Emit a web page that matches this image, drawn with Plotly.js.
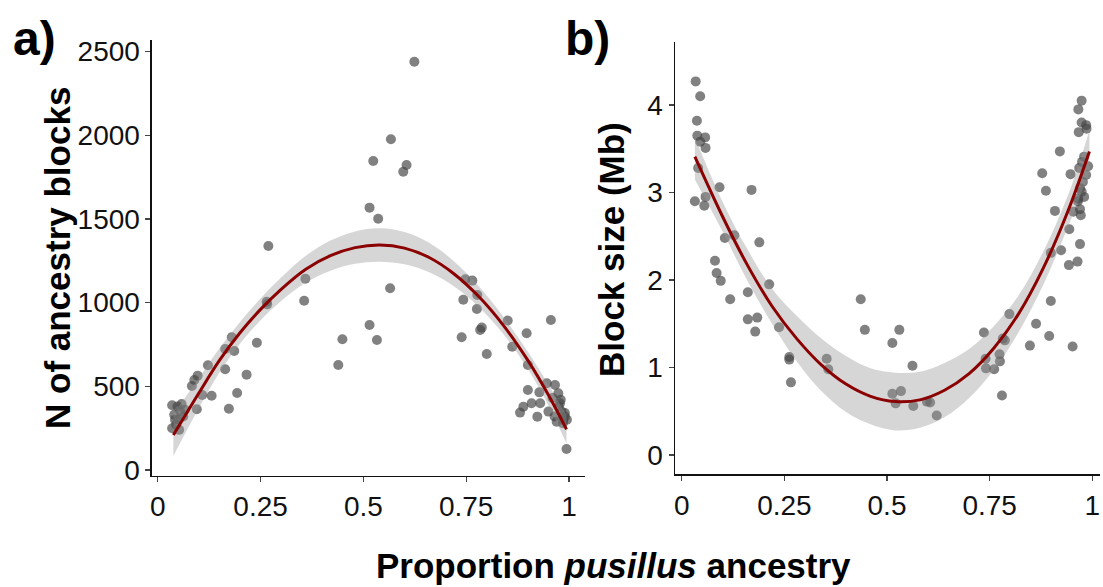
<!DOCTYPE html>
<html>
<head>
<meta charset="utf-8">
<script src="https://cdn.plot.ly/plotly-3.0.1.min.js"></script>
<style>html,body{margin:0;padding:0;background:#fff;}#chart{width:1103px;height:587px;}</style>
</head>
<body>
<div id="chart"></div>
<script>
// ---------- Panel a: number of ancestry blocks ----------
const aX = [0.624,0.567,0.524,0.605,0.597,0.515,0.536,0.269,0.359,0.356,0.565,0.265,0.266,
  0.180,0.186,0.164,0.241,0.164,0.216,0.122,0.097,0.089,0.083,0.108,0.131,0.193,0.173,0.095,
  0.035,0.058,0.040,0.050,0.045,0.055,0.062,0.035,0.048,0.066,0.042,0.052,
  0.449,0.439,0.515,0.533,
  0.748,0.765,0.743,0.777,0.776,0.788,0.784,0.739,0.800,0.851,0.956,0.897,0.862,0.900,
  0.900,0.928,0.946,0.966,0.974,0.889,0.881,0.909,0.930,0.923,0.950,0.970,0.986,0.978,
  0.982,0.990,0.994,0.960,0.975,0.990,0.985,0.965,0.995,0.980];
const aY = [2440,1977,1847,1823,1783,1568,1502,1339,1143,1012,1086,1006,990,
  793,711,723,761,602,570,626,564,538,502,448,444,460,366,363,
  387,395,330,300,270,350,320,250,380,360,300,240,
  781,628,867,777,
  1140,1132,1018,1046,962,851,837,793,693,893,897,817,737,628,
  478,464,518,508,458,378,343,399,399,319,349,289,299,399,
  349,319,126,430,380,340,280,320,300,420];
const aFitX  = [0.038,0.10,0.15,0.20,0.25,0.30,0.36,0.42,0.48,0.54,0.60,0.66,0.72,0.78,0.84,0.90,0.95,0.994];
const aFitY  = [209,460,655,820,960,1080,1200,1281,1329,1345,1326,1270,1173,1038,866,655,448,243];
const aBandHi = [334,550,727,885,1025,1150,1280,1371,1426,1445,1423,1358,1248,1100,918,707,510,328];
const aBandLo = [84,370,583,755,895,1010,1120,1191,1232,1245,1229,1182,1098,976,814,603,386,158];

// ---------- Panel b: block size (Mb) ----------
const bX = [0.034,0.045,0.037,0.038,0.057,0.045,0.058,0.040,0.092,0.170,0.032,0.058,0.055,
  0.105,0.128,0.189,0.081,0.085,0.095,0.213,0.118,0.161,0.161,0.184,0.179,0.237,0.262,0.262,
  0.266,0.353,0.357,0.436,0.446,0.513,0.530,0.562,0.513,0.534,0.521,0.564,0.597,0.605,0.621,
  0.736,0.740,0.741,0.761,0.774,0.775,0.780,0.782,0.787,0.798,0.848,0.863,0.895,0.899,0.952,
  0.943,0.964,0.899,0.924,
  0.974,0.966,0.974,0.985,0.986,0.967,0.921,0.980,0.878,0.947,0.968,0.887,0.977,0.974,0.966,
  0.909,0.954,0.970,0.972,0.944,0.970,0.975,0.985,0.970,0.980,0.990,0.965];
const bY = [4.27,4.10,3.82,3.65,3.63,3.58,3.51,3.28,3.06,3.03,2.90,2.95,2.85,
  2.48,2.51,2.43,2.22,2.08,1.99,1.95,1.78,1.86,1.55,1.57,1.41,1.46,1.12,1.09,
  0.83,1.10,0.98,1.78,1.43,1.28,1.43,1.02,0.70,0.73,0.59,0.56,0.61,0.60,0.45,
  1.40,1.10,0.99,0.98,1.15,1.07,0.68,1.33,1.31,1.61,1.25,1.50,1.36,1.76,1.24,
  2.17,2.21,2.31,2.34,
  4.05,3.95,3.80,3.77,3.73,3.69,3.47,3.41,3.22,3.21,3.28,3.02,3.12,3.01,2.93,
  2.79,2.78,2.81,2.74,2.58,2.41,3.35,3.20,3.05,2.95,3.30,2.90];
const bFitX  = [0.032,0.10,0.16,0.22,0.28,0.34,0.40,0.46,0.52,0.58,0.64,0.70,0.76,0.82,0.88,0.94,0.993];
const bFitY  = [3.41,2.72,2.17,1.70,1.33,1.03,0.81,0.67,0.61,0.63,0.74,0.93,1.22,1.61,2.13,2.78,3.47];
const bBandHi = [3.63,2.89,2.35,1.90,1.59,1.33,1.13,0.99,0.94,0.95,1.05,1.21,1.47,1.82,2.32,2.96,3.71];
const bBandLo = [3.15,2.55,1.99,1.50,1.07,0.73,0.49,0.35,0.28,0.31,0.43,0.65,0.97,1.40,1.94,2.60,3.23];

const xTickVals = [0,0.25,0.5,0.75,1];
const xTickText = ['0','0.25','0.5','0.75','1'];
const aTickVals = [0,500,1000,1500,2000,2500];
const bTickVals = [0,1,2,3,4];

const FONT = 'Liberation Sans, Arial, Helvetica, sans-serif';
const ptColor = 'rgba(70,70,70,0.68)';
const bandColor = 'rgba(153,153,153,0.4)';
const lineColor = 'rgb(139,0,0)';

function panel(xs, ys, fx, fy, lo, hi, xa, ya) {
  return [
    {x: xs, y: ys, xaxis: xa, yaxis: ya, type: 'scatter', mode: 'markers',
     marker: {size: 10, color: ptColor}, hoverinfo: 'skip'},
    {x: fx, y: lo, xaxis: xa, yaxis: ya, type: 'scatter', mode: 'lines',
     line: {width: 0, shape: 'spline', smoothing: 1}, hoverinfo: 'skip'},
    {x: fx, y: hi, xaxis: xa, yaxis: ya, type: 'scatter', mode: 'lines',
     fill: 'tonexty', fillcolor: bandColor,
     line: {width: 0, shape: 'spline', smoothing: 1}, hoverinfo: 'skip'},
    {x: fx, y: fy, xaxis: xa, yaxis: ya, type: 'scatter', mode: 'lines',
     line: {width: 3, color: lineColor, shape: 'spline', smoothing: 1}, hoverinfo: 'skip'}
  ];
}

const data = [].concat(
  panel(aX, aY, aFitX, aFitY, aBandLo, aBandHi, 'x', 'y'),
  panel(bX, bY, bFitX, bFitY, bBandLo, bBandHi, 'x2', 'y2')
);

const axCommon = {
  showline: true, linecolor: '#111', linewidth: 1.5, mirror: false,
  showgrid: false, zeroline: false, ticks: 'outside', ticklen: 5, tickwidth: 1.2,
  tickcolor: '#444', tickfont: {family: FONT, size: 28, color: '#111'}
};

const layout = {
  width: 1103, height: 587,
  margin: {l: 0, r: 0, t: 0, b: 0},
  paper_bgcolor: '#fff', plot_bgcolor: '#fff',
  showlegend: false,
  font: {family: FONT},
  xaxis: Object.assign({}, axCommon, {domain: [0.1378, 0.5304], range: [-0.014, 1.039],
    tickvals: xTickVals, ticktext: xTickText, anchor: 'y'}),
  yaxis: Object.assign({}, axCommon, {domain: [0.1896, 0.9319], range: [-34, 2570],
    tickvals: aTickVals, anchor: 'x'}),
  xaxis2: Object.assign({}, axCommon, {domain: [0.612, 0.9973], range: [-0.0163, 1.0188],
    tickvals: xTickVals, ticktext: xTickText, anchor: 'y2'}),
  yaxis2: Object.assign({}, axCommon, {domain: [0.1917, 0.9284], range: [-0.223, 4.72],
    tickvals: bTickVals, anchor: 'x2'}),
  annotations: [
    {text: '<b>a)</b>', xref: 'paper', yref: 'paper', x: 11/1103, y: 1 - 38/587,
     xanchor: 'left', yanchor: 'middle', showarrow: false,
     font: {family: FONT, size: 48, color: '#000'}},
    {text: '<b>b)</b>', xref: 'paper', yref: 'paper', x: 563/1103, y: 1 - 38/587,
     xanchor: 'left', yanchor: 'middle', showarrow: false,
     font: {family: FONT, size: 48, color: '#000'}},
    {text: '<b>N of ancestry blocks</b>', xref: 'paper', yref: 'paper', x: 57/1103, y: 1 - 258/587,
     xanchor: 'center', yanchor: 'middle', textangle: -90, showarrow: false,
     font: {family: FONT, size: 35, color: '#000'}},
    {text: '<b>Block size (Mb)</b>', xref: 'paper', yref: 'paper', x: 611/1103, y: 1 - 250/587,
     xanchor: 'center', yanchor: 'middle', textangle: -90, showarrow: false,
     font: {family: FONT, size: 35, color: '#000'}},
    {text: '<b>Proportion <i>pusillus</i> ancestry</b>', xref: 'paper', yref: 'paper',
     x: 613/1103, y: 1 - 565/587, xanchor: 'center', yanchor: 'middle', showarrow: false,
     font: {family: FONT, size: 35, color: '#000'}}
  ]
};

Plotly.newPlot('chart', data, layout, {staticPlot: true, displayModeBar: false});
</script>
</body>
</html>
